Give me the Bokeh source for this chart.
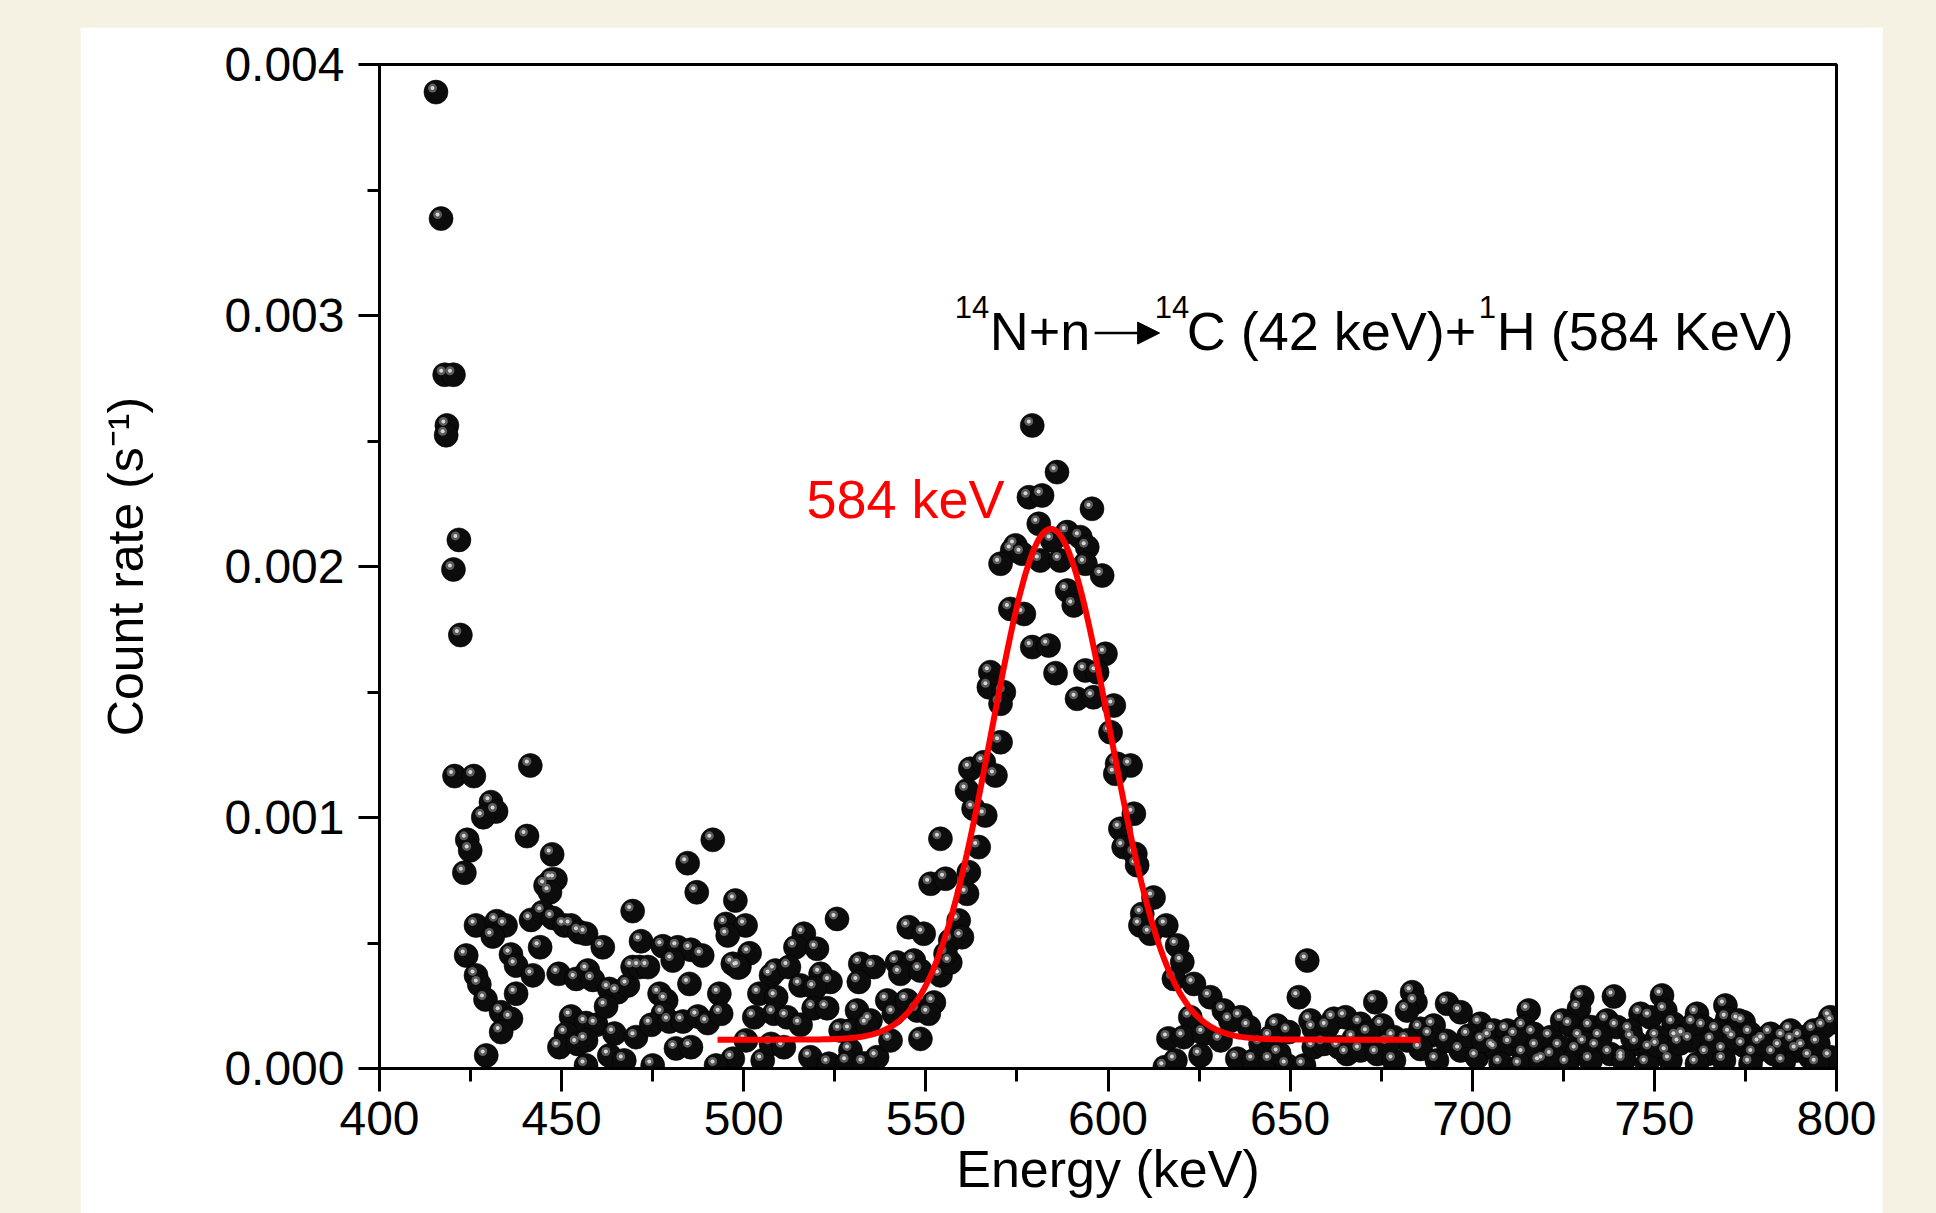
import numpy as np
from bokeh.plotting import figure
from bokeh.models import (ColumnDataSource, SingleIntervalTicker, PrintfTickFormatter,
                          Label, Arrow, NormalHead, Range1d, GlobalInlineStyleSheet)
from bokeh.embed import file_html
from bokeh.resources import INLINE

# ---------------- data ----------------
# energy (keV) and count rate (in units of 1e-3 s^-1)
energy_kev = [
    415.5, 416.9, 417.9, 420.3, 418.5, 418.3, 421.8, 420.3, 422.2, 420.6, 425.9, 441.4,
    430.6, 432.0, 428.5, 440.5, 424.1, 424.9, 423.3, 447.4, 447.3, 445.6, 448.3, 446.8,
    491.5, 484.6, 487.1, 497.7, 469.5, 495.1, 500.5, 495.6, 426.5, 432.2, 434.6, 431.1,
    441.6, 444.8, 447.6, 450.8, 452.6, 454.9, 456.7, 461.3, 471.8, 423.8, 444.1, 477.8,
    481.9, 485.5, 488.6, 480.5, 501.6, 497.0, 498.8, 436.1, 437.5, 442.1, 426.5, 427.4,
    429.1, 437.5, 433.4, 436.1, 433.4, 429.3, 449.2, 454.0, 457.2, 458.6, 463.1, 465.4,
    468.2, 469.5, 471.4, 473.7, 485.1, 493.3, 498.4, 507.5, 476.9, 478.7, 477.8, 452.6,
    456.7, 459.5, 462.2, 464.5, 451.2, 449.4, 454.4, 456.7, 470.4, 474.6, 479.6, 483.3,
    487.4, 490.1, 493.8, 481.4, 485.5, 463.1, 467.2, 456.7, 475.0, 497.0, 492.4, 505.2,
    504.3, 508.9, 502.9, 500.6, 507.5,
    516.5, 514.2, 520.1, 525.6, 508.7, 512.4, 515.6, 521.1, 523.8, 519.5, 532.0, 535.7,
    542.1, 546.7, 531.6, 543.0, 548.5, 554.0, 556.7, 545.3, 549.4, 554.0, 551.3, 555.4,
    559.0, 559.9, 508.3, 511.9, 515.6, 519.2, 522.9, 531.1, 534.8, 539.4, 541.2, 544.8,
    547.6, 552.2, 550.8, 526.6, 529.3, 533.9, 511.0, 518.3, 523.4, 529.3, 536.6, 540.3,
    548.5, 528.5, 533.0, 556.7, 555.4,
    563.1, 566.3, 564.5, 561.8, 561.3,
    579.2, 586.0, 578.3, 581.9, 595.6, 581.0, 574.6, 573.7, 576.4, 570.5, 581.4, 586.9,
    584.7, 588.8, 592.4, 594.3, 593.8, 598.4, 588.8, 590.6, 573.2, 576.9, 579.2, 583.7,
    585.6, 567.7, 567.3, 571.4, 570.5, 599.3, 593.8, 597.0, 591.5, 596.0, 601.6, 600.7,
    570.5, 562.2, 565.9, 569.1, 602.5, 606.2, 602.0, 561.3,
    607.1, 603.4, 604.3, 607.5, 608.0, 612.5, 609.4, 608.9, 611.6, 616.0, 619.0, 620.4,
    618.1, 623.6, 616.6, 615.6,
    628.1, 631.8, 636.4, 638.7, 622.6, 620.8, 626.3, 630.9, 654.7, 652.4, 673.4, 683.5,
    684.4, 682.1, 693.1, 696.8, 646.4, 655.6, 662.0, 665.2, 669.3, 675.3, 649.6, 656.5,
    660.2, 689.4, 688.5, 685.8, 702.2, 704.9, 618.5, 625.4, 635.5, 640.0, 644.6, 649.2,
    653.8, 656.5, 665.6, 669.3, 673.9, 678.5, 685.8, 690.3, 696.8, 701.3, 705.9, 659.2,
    663.4, 678.5, 682.1, 633.6, 641.9, 644.6, 647.0, 667.5, 671.5, 676.8, 693.0, 699.0,
    715.5, 730.2, 729.3, 738.9, 752.1, 753.0, 761.7, 769.5, 770.0, 774.5, 798.3, 799.0,
    705.9, 709.6, 714.2, 717.8, 721.5, 724.7, 727.0, 732.5, 737.0, 739.8, 746.2, 748.9,
    755.3, 758.1, 763.6, 767.2, 773.2, 776.4, 781.9, 785.5, 790.1, 793.8, 796.5,
    706.5, 710.5, 714.2, 719.7, 724.2, 728.8, 734.3, 737.9, 741.6, 745.3, 748.9, 753.5,
    756.2, 759.9, 764.5, 769.1, 774.5, 777.3, 780.0, 784.6, 789.2, 792.8, 798.3,
    707.8, 713.2, 718.7, 726.1, 732.5, 741.6, 748.0, 754.4, 761.7, 769.1, 776.4, 785.5,
    794.7, 716.9, 735.2, 743.4, 760.8, 770.9, 787.4, 791.0, 782.8, 729.7, 750.8,
    703.0, 712.0, 722.0, 731.0, 744.0, 751.0, 757.0, 766.0, 772.0, 779.0, 788.0, 795.0,
]
count_rate_1e3 = [
    3.890, 3.386, 2.764, 2.764, 2.562, 2.523, 2.106, 1.988, 1.727, 1.165, 1.165, 1.207,
    1.061, 1.024, 1.001, 0.926, 0.911, 0.869, 0.780, 0.853, 0.753, 0.729, 0.753, 0.702,
    0.911, 0.818, 0.702, 0.669, 0.627, 0.576, 0.570, 0.530, 0.570, 0.587, 0.570, 0.526,
    0.592, 0.623, 0.600, 0.570, 0.570, 0.543, 0.537, 0.483, 0.507, 0.450, 0.483, 0.487,
    0.483, 0.473, 0.450, 0.430, 0.459, 0.417, 0.404, 0.454, 0.410, 0.371, 0.371, 0.335,
    0.275, 0.298, 0.224, 0.198, 0.145, 0.052, 0.377, 0.357, 0.390, 0.353, 0.317, 0.304,
    0.331, 0.404, 0.404, 0.404, 0.337, 0.298, 0.402, 0.371, 0.298, 0.271, 0.218, 0.207,
    0.181, 0.174, 0.247, 0.139, 0.138, 0.085, 0.098, 0.112, 0.125, 0.174, 0.187, 0.187,
    0.207, 0.181, 0.218, 0.080, 0.085, 0.052, 0.032, 0.012, 0.012, 0.039, 0.012, 0.032,
    0.298, 0.284, 0.204, 0.112, 0.098,
    0.537, 0.483, 0.477, 0.596, 0.390, 0.404, 0.331, 0.377, 0.345, 0.320, 0.417, 0.404,
    0.422, 0.430, 0.345, 0.377, 0.390, 0.371, 0.422, 0.563, 0.537, 0.915, 0.736, 0.756,
    0.590, 0.523, 0.218, 0.204, 0.174, 0.240, 0.240, 0.231, 0.191, 0.271, 0.218, 0.271,
    0.231, 0.263, 0.218, 0.151, 0.151, 0.174, 0.085, 0.045, 0.019, 0.072, 0.045, 0.112,
    0.118, 0.025, 0.020, 0.510, 0.457,
    1.035, 1.008, 0.882, 0.782, 0.696,
    2.562, 2.376, 2.276, 2.283, 2.230, 2.170, 2.084, 2.064, 2.051, 2.011, 2.024, 2.024,
    2.104, 2.137, 2.117, 2.077, 2.011, 1.964, 1.904, 1.845, 1.831, 1.811, 1.679, 1.685,
    1.575, 1.579, 1.519, 1.499, 1.453, 1.652, 1.586, 1.579, 1.473, 1.479, 1.446, 1.340,
    1.300, 1.194, 1.220, 1.167, 1.214, 1.207, 1.174, 1.108,
    1.015, 0.955, 0.882, 0.855, 0.810, 0.681, 0.616, 0.570, 0.537, 0.570, 0.490, 0.424,
    0.357, 0.337, 0.120, 0.005,
    0.284, 0.231, 0.204, 0.165, 0.204, 0.125, 0.138, 0.112, 0.430, 0.284, 0.264, 0.304,
    0.264, 0.231, 0.258, 0.224, 0.171, 0.191, 0.198, 0.204, 0.178, 0.171, 0.145, 0.158,
    0.165, 0.171, 0.131, 0.158, 0.178, 0.125, 0.032, 0.052, 0.039, 0.032, 0.032, 0.012,
    0.012, 0.085, 0.058, 0.072, 0.058, 0.032, 0.078, 0.032, 0.072, 0.045, 0.085, 0.098,
    0.085, 0.125, 0.112, 0.190, 0.098, 0.125, 0.060, 0.120, 0.140, 0.100, 0.110, 0.130,
    0.231, 0.284, 0.238, 0.287, 0.291, 0.231, 0.218, 0.251, 0.198, 0.184, 0.204, 0.184,
    0.151, 0.151, 0.165, 0.085, 0.125, 0.191, 0.171, 0.165, 0.191, 0.165, 0.218, 0.204,
    0.178, 0.131, 0.165, 0.151, 0.191, 0.138, 0.138, 0.125, 0.125, 0.151, 0.165,
    0.078, 0.098, 0.058, 0.032, 0.085, 0.072, 0.085, 0.058, 0.045, 0.098, 0.078, 0.065,
    0.125, 0.112, 0.058, 0.072, 0.092, 0.058, 0.112, 0.085, 0.072, 0.045, 0.045,
    0.019, 0.012, 0.025, 0.019, 0.032, 0.032, 0.019, 0.032, 0.019, 0.032, 0.019, 0.025,
    0.019, 0.138, 0.125, 0.151, 0.178, 0.138, 0.151, 0.085, 0.058, 0.125, 0.125,
    0.110, 0.130, 0.050, 0.100, 0.120, 0.090, 0.100, 0.110, 0.120, 0.100, 0.110, 0.100,
]

# Gaussian fit of the 584 keV peak (parameters)
fit_center_kev = 584.3
fit_sigma_kev = 16.2
fit_amplitude = 2.035e-3
fit_baseline = 1.15e-4
fit_start_kev = 492.8
fit_end_kev = 685.8

x_limits = [400, 800]
y_limits = [0.0, 0.004]
x_tick_step = 50
y_tick_step = 0.001

peak_label = "584 keV"
reaction_parts = ["14", "N+n", "14", "C (42 keV)+", "1", "H (584 KeV)"]

# ---------------- figure ----------------
CREAM = "#f6f2e3"
FONT = "Liberation Sans"

p = figure(width=1803, height=1186,
           x_range=Range1d(*x_limits), y_range=Range1d(*y_limits),
           output_backend="svg", toolbar_location=None,
           min_border_left=299, min_border_right=47, min_border_top=37, min_border_bottom=145,
           background_fill_color="white", border_fill_color="white",
           outline_line_color="black", outline_line_width=3,
           margin=(27, 0, 0, 80),
           stylesheets=[GlobalInlineStyleSheet(css=f"body {{ background-color: {CREAM}; }}")])
p.grid.visible = False

# axes
p.xaxis.ticker = SingleIntervalTicker(interval=x_tick_step, num_minor_ticks=2)
p.yaxis.ticker = SingleIntervalTicker(interval=y_tick_step, num_minor_ticks=2)
p.xaxis.formatter = PrintfTickFormatter(format="%d")
p.yaxis.formatter = PrintfTickFormatter(format="%.3f")
p.xaxis.axis_label = "Energy (keV)"
p.yaxis.axis_label = "Count rate (s\u207b\u00b9)"
for ax in (p.xaxis[0], p.yaxis[0]):
    ax.axis_line_width = 3
    ax.axis_line_color = "black"
    ax.major_tick_line_width = 3
    ax.minor_tick_line_width = 3
    ax.major_tick_line_color = "black"
    ax.minor_tick_line_color = "black"
    ax.major_tick_in = 0
    ax.minor_tick_in = 0
    ax.major_label_text_font = FONT
    ax.major_label_text_font_size = "48px"
    ax.major_label_text_color = "black"
    ax.axis_label_text_font = FONT
    ax.axis_label_text_font_style = "normal"
    ax.axis_label_text_color = "black"
p.xaxis.axis_label_text_font_size = "52px"
p.yaxis.axis_label_text_font_size = "50px"
p.xaxis.major_tick_out = 23
p.xaxis.minor_tick_out = 13
p.xaxis.major_label_standoff = 10
p.xaxis.axis_label_standoff = 2
p.yaxis.major_tick_out = 21
p.yaxis.minor_tick_out = 12
p.yaxis.major_label_standoff = 14
p.yaxis.axis_label_standoff = 67

# pixel size of one data unit (frame is 1457 x 1004 px)
px_per_kev = 1457 / (x_limits[1] - x_limits[0])
px_per_rate = 1004 / (y_limits[1] - y_limits[0])

# data points drawn as shaded black spheres
rate = np.array(count_rate_1e3) * 1e-3
energy = np.array(energy_kev)
src = ColumnDataSource(dict(x=energy, y=rate,
                            hx=energy - 3.5 / px_per_kev, hy=rate + 4.0 / px_per_rate))
p.scatter("x", "y", source=src, size=24, fill_color="#0c0c0c", line_color="#000000", line_width=0.6)
p.scatter("hx", "hy", source=src, size=9, fill_color="#6a6a6a", line_color=None, fill_alpha=0.85)
p.scatter("hx", "hy", source=src, size=4, fill_color="#d6d6d6", line_color=None)

# Gaussian fit curve
xf = np.linspace(fit_start_kev, fit_end_kev, 500)
yf = fit_baseline + fit_amplitude * np.exp(-0.5 * ((xf - fit_center_kev) / fit_sigma_kev) ** 2)
p.line(xf, yf, line_color="#ff0000", line_width=6)

# peak label
p.add_layout(Label(x=517.2, y=2.267e-3, text=peak_label, text_color="#ff0000",
                   text_font=FONT, text_font_size="54px", text_baseline="alphabetic"))

# reaction equation, built from pieces
eq_x = 557.9
eq_y_main = 2.9365e-3
eq_y_sup = 3.034e-3
eq_y_arrow = 2.93e-3
offsets = [0, 35, 200, 232, 524, 542]
sizes = ["31px", "54px", "31px", "54px", "31px", "54px"]
for txt, off, sz in zip(reaction_parts, offsets, sizes):
    yy = eq_y_sup if sz == "31px" else eq_y_main
    p.add_layout(Label(x=eq_x, y=yy, x_offset=off, text=txt, text_color="black",
                       text_font=FONT, text_font_size=sz, text_baseline="alphabetic"))
p.add_layout(Arrow(end=NormalHead(size=22, fill_color="black", line_color="black"),
                   x_start=eq_x + 140 / px_per_kev, y_start=eq_y_arrow,
                   x_end=eq_x + 205 / px_per_kev, y_end=eq_y_arrow,
                   line_color="black", line_width=2.5))

open("out.html", "w").write(file_html(p, INLINE))
